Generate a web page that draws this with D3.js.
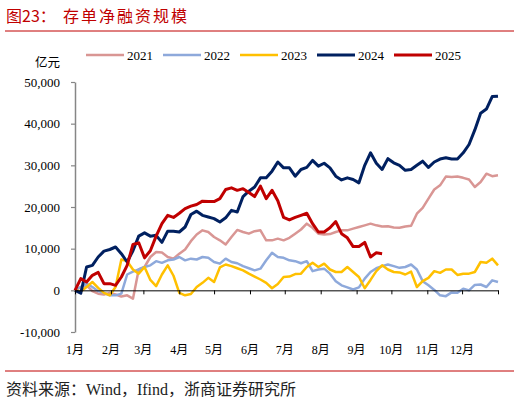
<!DOCTYPE html>
<html>
<head>
<meta charset="utf-8">
<script src="https://cdn.jsdelivr.net/npm/d3@7"></script>
<style>
  body { margin: 0; background: #fff; }
</style>
</head>
<body>
<div id="chart"></div>
<script>
var vWidth = 520;
var vHeight = 402;

// series names and colours
var years = ["2021", "2022", "2023", "2024", "2025"];
var colors = ["#D99694", "#8EA9DB", "#FFC000", "#002060", "#C00000"];
var widths = [2.5, 2.5, 2.5, 3, 3];

// x axis: day of year, ticks at month starts
var monthLabels = ["1月", "2月", "3月", "4月", "5月", "6月", "7月", "8月", "9月", "10月", "11月", "12月"];
var monthStarts = [0, 31, 59, 90, 120, 151, 181, 212, 243, 273, 304, 334, 365];
var yTicks = [-10000, 0, 10000, 20000, 30000, 40000, 50000];

// values (亿元) sampled every 5 days from 1 Jan
var dayStep = 5;
var v2021 = [0, 800, 1200, -200, -800, -1000, -600, -1000, -1500, -1200,
  -2000, 5000, 5600, 8000, 9200, 9100, 8000, 7600, 8800, 9800,
  11800, 13400, 14400, 14000, 12800, 12000, 11000, 12800, 14500, 14000,
  13600, 14200, 14400, 12000, 12000, 12400, 12000, 12600, 13600, 14600,
  16000, 15000, 13600, 13400, 13500, 14000, 14400, 14400, 14800, 15200,
  15600, 16000, 15600, 15300, 15400, 15100, 15000, 15300, 15500, 18400,
  19800, 22000, 24200, 25200, 27300, 27200, 27300, 27000, 26600, 24800,
  26000, 28000, 27400, 27600];
var v2022 = [0, 800, 1600, 800, -200, -600, -1200, -1200, -800, 3800,
  4500, 5000, 5600, 6000, 7000, 6600, 7200, 7400, 8000, 7200,
  7600, 7400, 8000, 7800, 6800, 6400, 7600, 6800, 6500, 5800,
  5300, 4800, 5200, 7200, 9000, 8000, 7800, 7200, 7000, 6500,
  7000, 4600, 5000, 5200, 4000, 2200, 1200, 700, 200, 700,
  2800, 4400, 5300, 5800, 6200, 5800, 5400, 5600, 6200, 5000,
  2200, 1200, 100, -1200, -1400, -500, -600, 400, 0, 1300,
  1400, 800, 2400, 2000];
var v2023 = [0, -300, 800, 2000, 600, -600, -1200, 800, 7400, 7000,
  5000, 4000, 5600, 2500, 1000, 3800, 6000, 3500, -600, -1200,
  -900, 800, 1800, 3000, 2000, 5500, 6200, 5800, 5300, 4800,
  4000, 3300, 2600, 1800, 500, 1500, 3200, 3300, 3900, 4000,
  5600, 6600, 5600, 6400, 5000, 4400, 4400, 5600, 4400, 3200,
  500, 2500, 4600, 6000, 5000, 4400, 4300, 3800, 4500, 800,
  2200, 3000, 4600, 4200, 5000, 5000, 3700, 4000, 4000, 4400,
  6800, 6600, 7600, 6000];
var v2024 = [0, -700, 5600, 6000, 8000, 9400, 9800, 10400, 8800, 6800,
  9500, 13000, 13800, 13000, 13200, 11500, 14200, 14200, 14000, 15200,
  18200, 19000, 18000, 17600, 17200, 16400, 17400, 19200, 18800, 22500,
  23800, 24800, 27000, 27000, 28600, 30800, 29400, 29400, 27400, 29000,
  29500, 31200, 29800, 30500, 29400, 27400, 26500, 27000, 26600, 25800,
  30000, 33000, 30500, 29000, 31600, 30600, 30000, 28800, 29000, 30000,
  31000, 29500, 30800, 31500, 31800, 31500, 31500, 33000, 35000, 38500,
  42500, 43500, 46500, 46600];
var v2025 = [0, 2800, 2000, 3600, 4300, 1600, 1600, 1200, 3200, 6000,
  11000, 11400, 7800, 9500, 13000, 16000, 18000, 17500, 18500, 19600,
  20200, 20600, 21400, 21300, 21300, 22000, 24200, 24600, 24000, 24400,
  23500, 22500, 25000, 22000, 24000, 21500, 17500, 16900, 17500, 18000,
  18500, 16000, 14000, 14000, 15000, 16500, 13600, 12600, 10500, 10500,
  11500, 8000, 9000, 8800];
var series = [v2021, v2022, v2023, v2024, v2025];

var cnFont = "'Noto Sans CJK SC', sans-serif";
var numFont = "'Liberation Serif', 'Noto Sans CJK SC', serif";

var svg = d3.select("#chart")
            .append("svg")
            .attr("width", vWidth)
            .attr("height", vHeight);

// title and rules
var title = svg.append("text")
    .attr("x", 6)
    .attr("y", 22)
    .attr("fill", "#C00000")
    .attr("font-family", cnFont)
    .attr("font-size", 16);
title.append("tspan").text("图23：");
title.append("tspan").attr("x", 63).attr("letter-spacing", 2).text("存单净融资规模");

svg.append("line")
    .attr("x1", 5).attr("x2", 514)
    .attr("y1", 31).attr("y2", 31)
    .attr("stroke", "#C00000").attr("stroke-width", 1);

svg.append("line")
    .attr("x1", 5).attr("x2", 514)
    .attr("y1", 371).attr("y2", 371)
    .attr("stroke", "#C00000").attr("stroke-width", 1);

svg.append("text")
    .attr("x", 6)
    .attr("y", 395)
    .attr("fill", "#222")
    .attr("font-family", numFont)
    .attr("font-size", 16)
    .text("资料来源：Wind，Ifind，浙商证券研究所");

// scales
var x = d3.scaleLinear().domain([0, 365]).range([75, 498]);
var y = d3.scaleLinear().domain([-10000, 50000]).range([332, 82]);

// y axis
var fmt = d3.format(",");
var yAxis = svg.append("g")
    .attr("transform", "translate(" + x(0) + ",0)")
    .call(d3.axisLeft(y).tickValues(yTicks).tickSize(4).tickSizeOuter(0).tickPadding(11)
        .tickFormat(function (d) { return fmt(d).replace("−", "-"); }));
yAxis.select(".domain").attr("stroke", "#868686").attr("stroke-width", 1.5);
yAxis.selectAll(".tick line").attr("stroke", "#868686").attr("stroke-width", 1.2);
yAxis.selectAll("text")
    .attr("font-family", numFont)
    .attr("font-size", 13)
    .attr("fill", "#000");

svg.append("text")
    .attr("x", 60)
    .attr("y", 67)
    .attr("text-anchor", "end")
    .attr("font-family", cnFont)
    .attr("font-size", 12.5)
    .text("亿元");

// lines
var line = d3.line()
    .x(function (d, i) { return x(i * dayStep); })
    .y(function (d) { return y(d); });

svg.append("g").selectAll("path")
    .data(series)
    .enter().append("path")
    .attr("d", line)
    .attr("fill", "none")
    .attr("stroke", function (d, i) { return colors[i]; })
    .attr("stroke-width", function (d, i) { return widths[i]; })
    .attr("stroke-linejoin", "round");

// x axis on zero line
var xAxis = svg.append("g")
    .attr("transform", "translate(0," + y(0) + ")")
    .call(d3.axisBottom(x).tickValues(monthStarts).tickSize(4).tickSizeOuter(0).tickFormat(""));
xAxis.select(".domain").attr("stroke", "#000").attr("stroke-width", 1);
xAxis.selectAll(".tick line").attr("stroke", "#000");

svg.append("g").selectAll("text")
    .data(monthLabels)
    .enter().append("text")
    .attr("x", function (d, i) { return x(monthStarts[i]); })
    .attr("y", 354)
    .attr("text-anchor", "middle")
    .attr("font-family", numFont)
    .attr("font-size", 12)
    .text(function (d) { return d; });

// legend
var legend = svg.append("g").selectAll("g")
    .data(years)
    .enter().append("g")
    .attr("transform", function (d, i) { return "translate(" + (86 + i * 77) + ",55)"; });

legend.append("line")
    .attr("x1", 0).attr("x2", 38)
    .attr("stroke", function (d, i) { return colors[i]; })
    .attr("stroke-width", function (d, i) { return widths[i]; });

legend.append("text")
    .attr("x", 41)
    .attr("y", 4.5)
    .attr("font-family", numFont)
    .attr("font-size", 13)
    .text(function (d) { return d; });
</script>
</body>
</html>
